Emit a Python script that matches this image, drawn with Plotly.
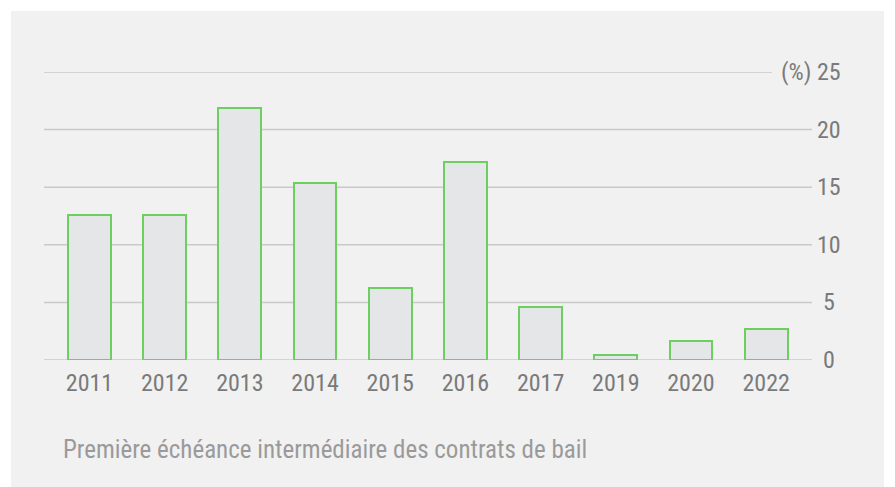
import plotly.graph_objects as go

years = ["2011", "2012", "2013", "2014", "2015", "2016", "2017", "2019", "2020", "2022"]
values = [12.6, 12.6, 21.9, 15.4, 6.25, 17.2, 4.6, 0.45, 1.65, 2.65]
y_ticks = [0, 5, 10, 15, 20, 25]
y_tick_labels = ["0", "5", "10", "15", "20", "25"]
unit_label = "(%)"
caption = "Première échéance intermédiaire des contrats de bail"

FONT = "Roboto Condensed, sans-serif"
OFF = 8  # page body margin

fig = go.Figure()
fig.add_trace(go.Bar(
    x=list(range(len(years))), y=values,
    width=0.57,
    marker=dict(color="#e5e6e7", line=dict(color="#6ccf5f", width=2)),
    hoverinfo="skip",
))

W, H = 895 - OFF, 487 - OFF
L, R, T, B = 44 - OFF, 83, 72 - OFF, 127
pw = W - L - R
ph = H - T - B

def px(x):
    return (x - OFF - L) / pw

def py(y):
    return 1 - (y - OFF - T) / ph

shapes = [dict(type="rect", xref="paper", yref="paper", layer="below",
               x0=px(11), x1=px(884), y0=py(490), y1=py(11),
               fillcolor="#f1f1f1", line=dict(width=0))]
for t in y_ticks:
    x1 = px(772) if t == y_ticks[-1] else 1
    shapes.append(dict(type="line", xref="paper", yref="y", layer="below",
                       x0=0, x1=x1, y0=t, y1=t,
                       line=dict(color="#c9c9c9", width=1.5)))

annotations = []
for t, lab in zip(y_ticks, y_tick_labels):
    annotations.append(dict(xref="paper", yref="y", x=px(829), y=t,
                            text=lab, showarrow=False, xanchor="center", yanchor="middle",
                            font=dict(family=FONT, size=24, color="#7a7a7a")))
annotations.append(dict(xref="paper", yref="y", x=px(796), y=y_ticks[-1],
                        text=unit_label, showarrow=False, xanchor="center", yanchor="middle",
                        font=dict(family=FONT, size=24, color="#7a7a7a")))
annotations.append(dict(xref="paper", yref="paper", x=px(61), y=py(449),
                        text=caption, showarrow=False, xanchor="left", yanchor="middle",
                        font=dict(family=FONT, size=25, color="#9a9a9a")))

fig.update_layout(
    width=W, height=H,
    margin=dict(l=L, r=R, t=T, b=B),
    paper_bgcolor="#ffffff", plot_bgcolor="rgba(0,0,0,0)",
    showlegend=False,
    bargap=0,
    shapes=shapes, annotations=annotations,
    xaxis=dict(range=[-0.605, 9.61], tickmode="array",
               tickvals=list(range(len(years))), ticktext=years,
               showgrid=False, zeroline=False, showline=False, ticks="",
               ticklabelstandoff=6,
               tickfont=dict(family=FONT, size=24, color="#7a7a7a")),
    yaxis=dict(range=[0, 25], showgrid=False, zeroline=False, showline=False,
               showticklabels=False, ticks=""),
)

fig.write_html("out.html")
